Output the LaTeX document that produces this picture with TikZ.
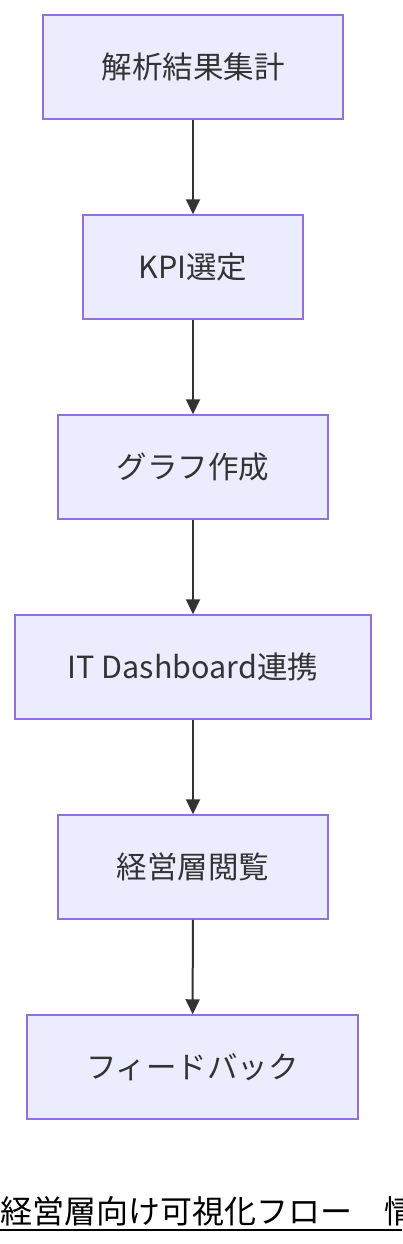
\documentclass[tikz,border=0pt]{standalone}
\usepackage{fontspec}
\setmainfont{Noto Sans CJK JP}
\usetikzlibrary{arrows.meta}
\definecolor{boxfill}{HTML}{ECECFF}
\definecolor{boxline}{HTML}{9370DB}
\definecolor{txt}{HTML}{333333}
\tikzset{
  stepbox/.style={draw=boxline, fill=boxfill, line width=1.5pt, text=txt, font=\fontsize{30.5}{36}\selectfont, minimum height=104pt, inner sep=0pt},
  flow/.style={draw=txt, line width=2pt, -{Triangle[length=15pt,width=14pt]}}
}
\begin{document}
\begin{tikzpicture}[x=1pt,y=-1pt]
\useasboundingbox (0,0) rectangle (402,1244);
\clip (0,0) rectangle (402,1244);
\node[stepbox, minimum width=300pt] (n1) at (193,67) {解析結果集計};
\node[stepbox, minimum width=220pt] (n2) at (193,267) {KPI選定};
\node[stepbox, minimum width=270pt] (n3) at (193,467) {グラフ作成};
\node[stepbox, minimum width=356pt] (n4) at (193,667) {IT Dashboard連携};
\node[stepbox, minimum width=270pt] (n5) at (193,867) {経営層閲覧};
\node[stepbox, minimum width=331pt] (n6) at (192.5,1067) {フィードバック};
\draw[flow] (n1) -- (n2);
\draw[flow] (n2) -- (n3);
\draw[flow] (n3) -- (n4);
\draw[flow] (n4) -- (n5);
\draw[flow] (n5) -- (n6);
\node[anchor=base west, inner sep=0pt, text=black, font=\fontsize{32}{36}\selectfont] (title) at (0,1223) {経営層向け可視化フロー　情報};
\draw[line width=2pt] (0,1230) coordinate (ul) -- (402,1230);
\end{tikzpicture}
\end{document}
